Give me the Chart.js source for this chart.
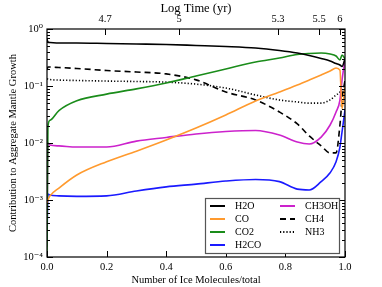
<!DOCTYPE html>
<html lang="en">
<head>
<meta charset="UTF-8">
<title>Mantle Growth</title>
<script src="https://cdn.jsdelivr.net/npm/chart.js"></script>
<style>
  html, body { margin: 0; padding: 0; background: #fff; overflow: hidden; }
  canvas { display: block; }
</style>
</head>
<body>
<canvas id="c" width="382" height="287"></canvas>
<script>
// fraction of ice molecules (x axis)
const xs = [0, 0.003, 0.01, 0.04, 0.1, 0.2, 0.3, 0.4, 0.5, 0.6, 0.7, 0.78, 0.84, 0.88, 0.92, 0.95, 0.97, 0.983, 0.99, 1.0];

const h2o   = [0.668, 0.591, 0.580, 0.568, 0.568, 0.557, 0.546, 0.535, 0.514, 0.493, 0.464, 0.420, 0.379, 0.343, 0.304, 0.275, 0.248, 0.234, 0.22, 0.3];
const co    = [0.00089, 0.001, 0.00118, 0.00162, 0.00275, 0.0047, 0.0072, 0.0113, 0.0183, 0.031, 0.0546, 0.0785, 0.104, 0.127, 0.156, 0.183, 0.207, 0.19, 0.04, 0.1];
const co2   = [0.0001, 0.019, 0.025, 0.037, 0.055, 0.072, 0.089, 0.113, 0.150, 0.199, 0.264, 0.31, 0.357, 0.372, 0.379, 0.364, 0.336, 0.286, 0.35, 0.3];
const h2co  = [0.0002, 0.00127, 0.00122, 0.00118, 0.00116, 0.00118, 0.00144, 0.0017, 0.0019, 0.00215, 0.00229, 0.0021, 0.00155, 0.0015, 0.0021, 0.003, 0.0047, 0.0085, 0.0156, 0.038];
const ch3oh = [0.00015, 0.0100, 0.0092, 0.0089, 0.0085, 0.0085, 0.0108, 0.0125, 0.0144, 0.0159, 0.0166, 0.0138, 0.0104, 0.0096, 0.0127, 0.0207, 0.035, 0.0568, 0.127, 0.286];
const ch4   = [0.19, 0.215, 0.215, 0.211, 0.203, 0.187, 0.176, 0.163, 0.128, 0.0785, 0.0568, 0.035, 0.0216, 0.0133, 0.0089, 0.0067, 0.0067, 0.0207, 0.0568, 0.127];
const nh3   = [0.133, 0.133, 0.130, 0.127, 0.125, 0.122, 0.12, 0.117, 0.108, 0.092, 0.0695, 0.0568, 0.0525, 0.050, 0.050, 0.057, 0.0695, 0.0785, 0.092, 0.104];

// top axis: log time labels and where they sit on the fraction axis
const timeLabels = ['4.7', '5', '5.3', '5.5', '6'];
const timePos    = [0.195, 0.443, 0.775, 0.913, 0.983];

const xTicks = [0, 0.2, 0.4, 0.6, 0.8, 1.0];
const yDecades = [1e-4, 1e-3, 1e-2, 1e-1, 1];
const supers = {'-': '⁻', '0': '⁰', '1': '¹', '2': '²', '3': '³', '4': '⁴'};

const FONT = "'Liberation Serif', 'DejaVu Serif', serif";

function pts(ys) {
    return xs.map((x, i) => ({x: x, y: ys[i]}));
}

function ds(label, ys, color, dash) {
    return {
        label: label,
        data: pts(ys),
        borderColor: color,
        backgroundColor: color,
        borderWidth: 1.6,
        borderDash: dash || [],
        pointRadius: 0,
        cubicInterpolationMode: 'monotone',
        fill: false
    };
}

const datasets = [
    ds('H2O', h2o, '#000000'),
    ds('CO', co, '#ff9a2e'),
    ds('CO2', co2, '#1a8c1a'),
    ds('H2CO', h2co, '#1a1aff'),
    ds('CH3OH', ch3oh, '#cc22cc'),
    ds('CH4', ch4, '#000000', [6, 4]),
    ds('NH3', nh3, '#000000', [1.2, 2])
];

// inward tick marks, frame and legend box
const framePlugin = {
    id: 'frame',
    afterDraw(chart) {
        const ctx = chart.ctx;
        const a = chart.chartArea;
        const y = chart.scales.y;
        const x = chart.scales.x;
        ctx.save();
        ctx.strokeStyle = '#000';
        ctx.lineWidth = 1;
        ctx.setLineDash([]);
        ctx.beginPath();
        for (let d = -4; d <= 0; d++) {
            for (let m = 1; m <= 9; m++) {
                const v = m * Math.pow(10, d);
                if (v > 1) break;
                const py = Math.round(y.getPixelForValue(v)) + 0.5;
                const len = m === 1 ? 6 : 3;
                ctx.moveTo(a.left, py); ctx.lineTo(a.left + len, py);
                ctx.moveTo(a.right, py); ctx.lineTo(a.right - len, py);
            }
        }
        xTicks.forEach(v => {
            const px = Math.round(x.getPixelForValue(v)) + 0.5;
            ctx.moveTo(px, a.bottom); ctx.lineTo(px, a.bottom - 6);
        });
        timePos.forEach(v => {
            const px = Math.round(x.getPixelForValue(v)) + 0.5;
            ctx.moveTo(px, a.top); ctx.lineTo(px, a.top + 6);
        });
        ctx.stroke();
        ctx.lineWidth = 1.2;
        ctx.strokeRect(a.left, a.top, a.right - a.left, a.bottom - a.top);

        // legend
        const bw = 134, bh = 55;
        const bx = a.right - 6 - bw, by = a.bottom - 4 - bh;
        ctx.fillStyle = '#fff';
        ctx.fillRect(bx, by, bw, bh);
        ctx.strokeStyle = '#555';
        ctx.lineWidth = 1.2;
        ctx.strokeRect(bx + 0.5, by + 0.5, bw, bh);
        ctx.font = '10px ' + FONT;
        ctx.textBaseline = 'middle';
        chart.data.datasets.forEach((d, i) => {
            const col = i < 4 ? 0 : 1;
            const row = i < 4 ? i : i - 4;
            const lx = bx + 5 + col * 70;
            const ly = by + 8 + row * 13;
            ctx.strokeStyle = d.borderColor;
            ctx.lineWidth = 2;
            ctx.setLineDash(d.borderDash);
            ctx.beginPath();
            ctx.moveTo(lx, ly); ctx.lineTo(lx + 15, ly);
            ctx.stroke();
            ctx.setLineDash([]);
            ctx.fillStyle = '#000';
            ctx.fillText(d.label, lx + 25, ly + 0.5);
        });
        ctx.restore();
    }
};

new Chart(document.getElementById('c'), {
    type: 'line',
    data: { datasets: datasets },
    options: {
        responsive: false,
        animation: false,
        events: [],
        layout: { padding: { left: 0, right: 37, top: 0, bottom: 0 } },
        plugins: { legend: { display: false }, tooltip: { enabled: false } },
        scales: {
            x: {
                type: 'linear',
                position: 'bottom',
                min: 0, max: 1,
                afterBuildTicks: s => { s.ticks = xTicks.map(v => ({value: v})); },
                afterFit: s => { s.height = 30; },
                grid: { display: false, drawTicks: false },
                border: { display: false },
                ticks: {
                    padding: 4,
                    color: '#000',
                    font: { family: FONT, size: 10.5 },
                    maxRotation: 0,
                    callback: v => v.toFixed(1)
                },
                title: {
                    display: true,
                    text: 'Number of Ice Molecules/total',
                    color: '#000',
                    font: { family: FONT, size: 10.5 },
                    padding: { top: 0, bottom: 0 }
                }
            },
            x2: {
                type: 'linear',
                position: 'top',
                min: 0, max: 1,
                afterBuildTicks: s => { s.ticks = timePos.map(v => ({value: v})); },
                afterFit: s => { s.height = 29; },
                grid: { display: false, drawTicks: false },
                border: { display: false },
                ticks: {
                    padding: 3,
                    color: '#000',
                    font: { family: FONT, size: 10.5 },
                    maxRotation: 0,
                    autoSkip: false,
                    callback: (v, i) => timeLabels[i]
                },
                title: {
                    display: true,
                    text: 'Log Time (yr)',
                    color: '#000',
                    font: { family: FONT, size: 12.5 },
                    padding: { top: 1, bottom: 0 }
                }
            },
            y: {
                type: 'logarithmic',
                min: 1e-4, max: 1,
                afterBuildTicks: s => { s.ticks = yDecades.map(v => ({value: v})); },
                afterFit: s => { s.width = 47; },
                grid: { display: false, drawTicks: false },
                border: { display: false },
                ticks: {
                    padding: 4,
                    color: '#000',
                    font: { family: FONT, size: 10.5 },
                    callback: v => '10' + String(Math.round(Math.log10(v))).split('').map(c => supers[c]).join('')
                },
                title: {
                    display: true,
                    text: 'Contribution to Aggregate Mantle Growth',
                    color: '#000',
                    font: { family: FONT, size: 10.5 },
                    padding: { top: 7, bottom: 0 }
                }
            }
        }
    },
    plugins: [framePlugin]
});
</script>
</body>
</html>
